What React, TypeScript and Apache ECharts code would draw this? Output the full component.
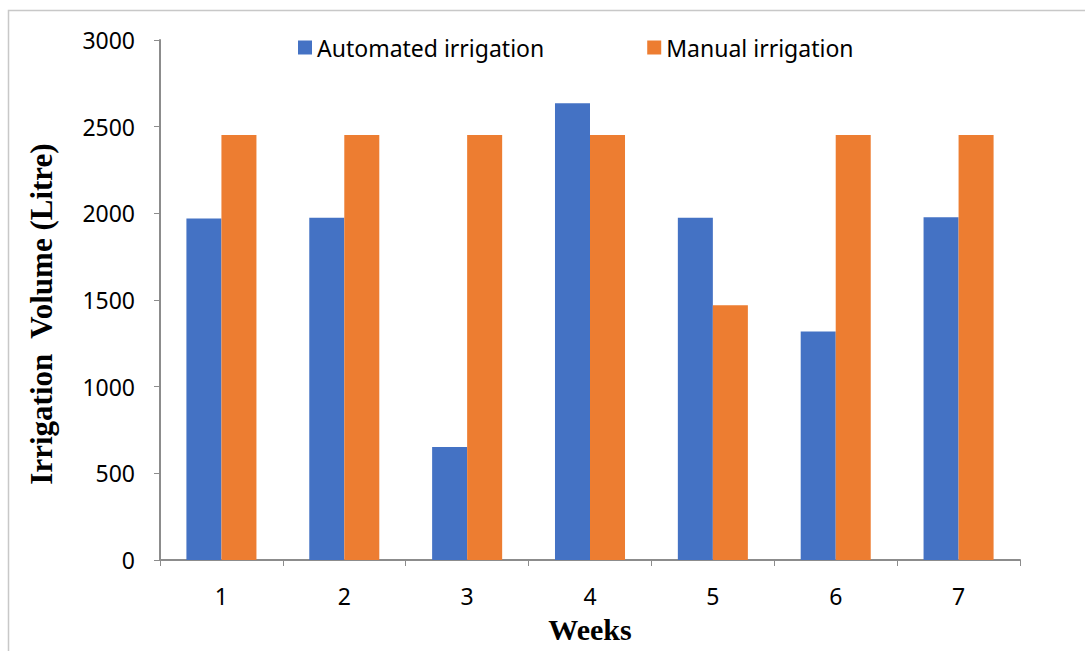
import React, { useEffect, useRef } from "react";
import * as echarts from "echarts";

const weeks = ["1", "2", "3", "4", "5", "6", "7"];
const automated = [1970, 1975, 652, 2635, 1975, 1318, 1978];
const manual = [2452, 2452, 2452, 2452, 1470, 2452, 2452];
const seriesNames = ["Automated irrigation", "Manual irrigation"];
const colors = ["#4472C4", "#ED7D31"];

export default function App() {
  const ref = useRef<HTMLDivElement>(null);
  useEffect(() => {
    const chart = echarts.init(ref.current!, null, { renderer: "svg" });
    const labelFont = "'Noto Sans', sans-serif";
    const serif = "'Liberation Serif', 'Times New Roman', serif";
    chart.setOption({
      animation: false,
      backgroundColor: "#ffffff",
      graphic: [
        {
          type: "rect",
          shape: { x: 8.5, y: 10.5, width: 1100, height: 700 },
          style: { fill: "none", stroke: "#c8c8c8", lineWidth: 1.5 },
          silent: true,
          z: -1,
        },
      ],
      legend: {
        data: seriesNames,
        top: 31,
        left: 293,
        itemWidth: 14,
        itemHeight: 14,
        itemGap: 103,
        icon: "rect",
        textStyle: { fontFamily: labelFont, fontSize: 23, color: "#000" },
      },
      grid: { left: 160, right: 65, top: 40, bottom: 91, containLabel: false },
      xAxis: {
        type: "category",
        data: weeks,
        name: "Weeks",
        nameLocation: "middle",
        nameGap: 54,
        nameTextStyle: { fontFamily: serif, fontWeight: "bold", fontSize: 30, color: "#000" },
        axisLine: { lineStyle: { color: "#8c8c8c", width: 2 } },
        axisTick: { show: true, length: 6, lineStyle: { color: "#8c8c8c", width: 1 } },
        axisLabel: { fontFamily: labelFont, fontSize: 23, color: "#000", margin: 24 },
      },
      yAxis: {
        type: "value",
        min: 0,
        max: 3000,
        interval: 500,
        name: "Irrigation  Volume (Litre)",
        nameLocation: "middle",
        nameGap: 103,
        nameTextStyle: {
          fontFamily: serif,
          fontWeight: "bold",
          fontSize: 31,
          color: "#000",
          padding: [0, 28, 0, 0],
        },
        axisLine: { show: true, lineStyle: { color: "#8c8c8c", width: 2 } },
        axisTick: { show: true, length: 6, lineStyle: { color: "#8c8c8c", width: 1 } },
        splitLine: { show: false },
        axisLabel: {
          fontFamily: labelFont,
          fontSize: 23,
          color: "#000",
          margin: 25,
          formatter: (v: number) => String(v),
        },
      },
      series: [
        {
          name: seriesNames[0],
          type: "bar",
          data: automated,
          itemStyle: { color: colors[0] },
          barGap: "0%",
          barCategoryGap: "43%",
        },
        {
          name: seriesNames[1],
          type: "bar",
          data: manual,
          itemStyle: { color: colors[1] },
          barGap: "0%",
          barCategoryGap: "43%",
        },
      ],
    });
    return () => chart.dispose();
  }, []);
  return (
    <div
      ref={ref}
      style={{ position: "fixed", left: 0, top: 0, width: 1085, height: 651 }}
    />
  );
}
